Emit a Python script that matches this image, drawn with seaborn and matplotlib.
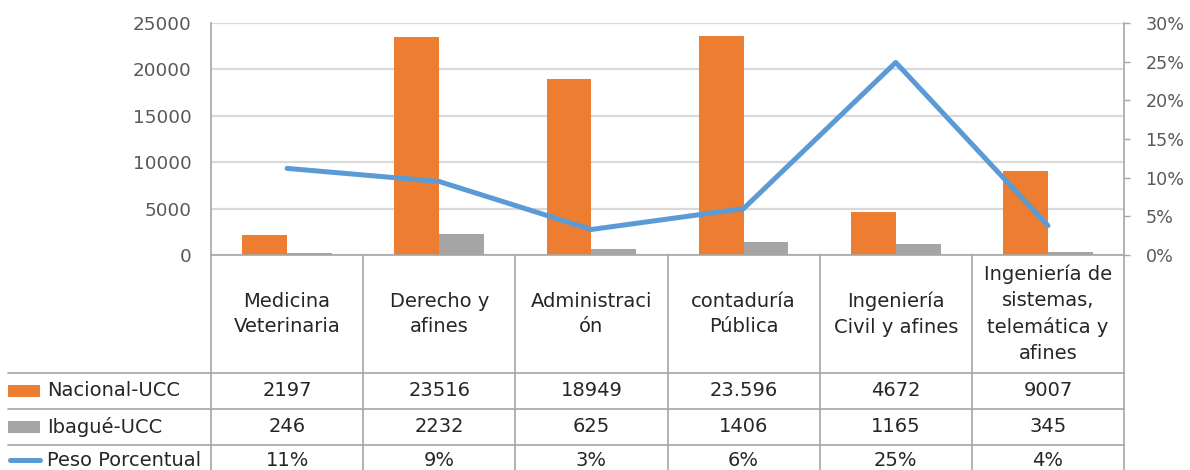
import numpy as np
import pandas as pd
import matplotlib
matplotlib.use("Agg")
import matplotlib.pyplot as plt
import matplotlib.transforms as mtransforms
from matplotlib.lines import Line2D
from matplotlib.patches import Rectangle
from matplotlib.ticker import FuncFormatter
import seaborn as sns

# ---------------- data ----------------
categories = [
    "Medicina\nVeterinaria",
    "Derecho y\nafines",
    "Administraci\nón",
    "contaduría\nPública",
    "Ingeniería\nCivil y afines",
    "Ingeniería de\nsistemas,\ntelemática y\nafines",
]
nacional = [2197, 23516, 18949, 23596, 4672, 9007]
ibague = [246, 2232, 625, 1406, 1165, 345]
peso = [0.112, 0.095, 0.033, 0.060, 0.249, 0.038]

nacional_labels = ["2197", "23516", "18949", "23.596", "4672", "9007"]
ibague_labels = ["246", "2232", "625", "1406", "1165", "345"]
peso_labels = ["11%", "9%", "3%", "6%", "25%", "4%"]
series_names = ["Nacional-UCC", "Ibagué-UCC", "Peso Porcentual"]

left_ticks = [0, 5000, 10000, 15000, 20000, 25000]
right_ticks = [0, 0.05, 0.10, 0.15, 0.20, 0.25, 0.30]

# ---------------- style ----------------
ORANGE = "#ED7D31"
GRAY = "#A5A5A5"
BLUE = "#5B9BD5"
GRID = "#D9D9D9"
LINE = "#A6A6A6"
TICK_TXT = "#595959"
TXT = "#262626"

sns.set_theme(style="white")
plt.rcParams["font.family"] = ["DejaVu Sans"]

W, H = 1190, 470
fig = plt.figure(figsize=(W / 100, H / 100), dpi=100)

# plot area in pixels (from top-left)
L, R, T, B = 211, 1124, 23, 255
ax = fig.add_axes([L / W, 1 - B / H, (R - L) / W, (B - T) / H])

df = pd.DataFrame({
    "cat": categories * 2,
    "serie": [series_names[0]] * len(categories) + [series_names[1]] * len(categories),
    "valor": nacional + ibague,
})
sns.barplot(data=df, x="cat", y="valor", hue="serie", order=categories,
            hue_order=series_names[:2], palette=[ORANGE, GRAY],
            width=0.59, gap=0, legend=False, ax=ax, saturation=1,
            linewidth=0, edgecolor="none")

ax.set_ylim(0, 25000)
ax.set_xlim(-0.5, len(categories) - 0.5)
ax.set_yticks(left_ticks)
ax.yaxis.set_major_formatter(FuncFormatter(lambda v, p: f"{int(v)}"))
ax.tick_params(axis="y", length=0, pad=14, labelsize=13.2, labelcolor=TICK_TXT)
ax.tick_params(axis="x", length=0, labelbottom=False)
ax.set_xlabel("")
ax.set_ylabel("")
ax.grid(axis="y", color=GRID, linewidth=1.6)
ax.set_axisbelow(True)
for s in ["top", "right"]:
    ax.spines[s].set_visible(False)
ax.spines["left"].set_color(LINE)
ax.spines["left"].set_linewidth(1.2)
ax.spines["bottom"].set_color(LINE)
ax.spines["bottom"].set_linewidth(1.2)

ax2 = ax.twinx()
sns.lineplot(x=np.arange(len(categories)), y=peso, ax=ax2, color=BLUE,
             linewidth=3.6, solid_capstyle="round", solid_joinstyle="round")
ax2.set_ylim(0, 0.30)
ax2.set_yticks(right_ticks)
ax2.yaxis.set_major_formatter(FuncFormatter(lambda v, p: f"{int(round(v * 100))}%"))
ax2.tick_params(axis="y", length=4.5, width=1, color=LINE, pad=11,
                labelsize=12.6, labelcolor=TICK_TXT, direction="out")
ax2.set_ylabel("")
for s in ["top", "left", "bottom"]:
    ax2.spines[s].set_visible(False)
ax2.spines["right"].set_color(LINE)
ax2.spines["right"].set_linewidth(1.2)
ax2.set_xlim(-0.5, len(categories) - 0.5)

# ---------------- data table ----------------
ypx = mtransforms.Affine2D().scale(1, -1).translate(0, H)        # pixels from top
tr_cat = mtransforms.blended_transform_factory(ax.transData, ypx)
tr_px = ypx

row_lines = [373, 409, 445]
row_centers = [391, 427, 460]
header_center = (B + 373) / 2
n = len(categories)
FS = 14

# vertical lines at category boundaries
for i in range(n + 1):
    fig.add_artist(Line2D([i - 0.5, i - 0.5], [B, H + 5], transform=tr_cat,
                          color=LINE, linewidth=1.2))
# horizontal row lines
for yl in row_lines:
    fig.add_artist(Line2D([8, R], [yl, yl], transform=tr_px,
                          color=LINE, linewidth=1.2))

# header texts
for i, c in enumerate(categories):
    fig.text(i, header_center, c, transform=tr_cat, ha="center", va="center",
             fontsize=FS, color=TXT, linespacing=1.45)

# row values
rows = [nacional_labels, ibague_labels, peso_labels]
for r, labels in enumerate(rows):
    for i, lab in enumerate(labels):
        fig.text(i, row_centers[r], lab, transform=tr_cat, ha="center",
                 va="center", fontsize=FS, color=TXT)
    fig.text(47, row_centers[r], series_names[r], transform=tr_px,
             ha="left", va="center", fontsize=FS, color=TXT)

# legend keys
fig.add_artist(Rectangle((8, 385), 32, 12, transform=tr_px,
                         facecolor=ORANGE, edgecolor="none"))
fig.add_artist(Rectangle((8, 421), 32, 12, transform=tr_px,
                         facecolor=GRAY, edgecolor="none"))
fig.add_artist(Line2D([10, 40], [460, 460], transform=tr_px, color=BLUE,
                      linewidth=3.6, solid_capstyle="round"))

fig.savefig("out.png", dpi=100)
